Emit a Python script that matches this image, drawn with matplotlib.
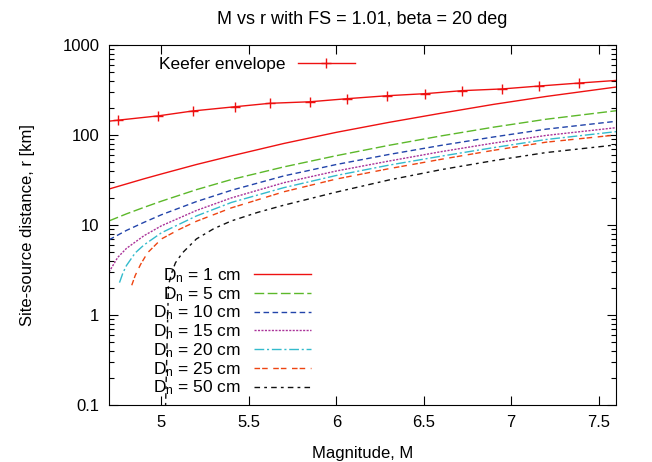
import matplotlib
matplotlib.use("Agg")
import matplotlib.pyplot as plt
from matplotlib.ticker import FixedLocator, FuncFormatter, LogLocator, NullFormatter

plt.rcParams['font.family'] = ['Liberation Sans', 'DejaVu Sans']
plt.rcParams['font.size'] = 12
plt.rcParams['mathtext.fontset'] = 'custom'
plt.rcParams['mathtext.rm'] = 'Liberation Sans'
plt.rcParams['mathtext.it'] = 'Liberation Sans'

# Keefer envelope, first/last points lie outside the frame
keefer_M = [4.50, 4.75, 4.98, 5.18, 5.42, 5.62, 5.85, 6.06, 6.29, 6.51, 6.72, 6.95, 7.16, 7.39, 7.80]
keefer_r = [129, 146, 163, 185, 206, 225, 234, 253, 273, 288, 311, 325, 350, 378, 430]

# Dn curves, M and r [km]
d1_M = [4.7, 4.8, 4.9, 5.0, 5.2, 5.4, 5.7, 6.0, 6.3, 6.6, 6.9, 7.2, 7.6]
d1_r = [25.1, 28.6, 32.6, 36.9, 47.0, 58.6, 80.5, 107, 138, 174.6, 219, 268, 341]

d5_M = [4.7, 4.8, 4.9, 5.0, 5.2, 5.4, 5.7, 6.0, 6.3, 6.6, 6.9, 7.2, 7.6]
d5_r = [11.1, 13.3, 15.7, 18.4, 24.7, 32.0, 44.2, 58.9, 76.7, 97.7, 122.2, 149.6, 186]

d10_M = [4.7, 4.8, 4.9, 5.0, 5.2, 5.4, 5.7, 6.0, 6.3, 6.6, 6.9, 7.2, 7.6]
d10_r = [6.84, 8.71, 10.7, 13.0, 18.2, 24.3, 35.1, 47.0, 60.7, 76.7, 95.1, 116.1, 141.9]

d15_M = [4.7, 4.75, 4.8, 4.9, 5.0, 5.2, 5.4, 5.7, 6.0, 6.3, 6.6, 6.9, 7.2, 7.6]
d15_r = [3.0, 4.37, 5.5, 7.6, 9.8, 14.5, 20.0, 29.5, 39.8, 51.3, 65.3, 81.3, 98.9, 120.5]

d20_M = [4.76, 4.78, 4.8, 4.85, 4.9, 5.0, 5.2, 5.4, 5.7, 6.0, 6.3, 6.6, 6.9, 7.2, 7.6]
d20_r = [2.29, 2.95, 3.55, 4.9, 6.0, 8.2, 12.6, 17.8, 26.0, 35.5, 46.2, 58.2, 72.4, 89.1, 108.9]

d25_M = [4.83, 4.85, 4.88, 4.92, 5.0, 5.1, 5.2, 5.4, 5.7, 6.0, 6.3, 6.6, 6.9, 7.2, 7.6]
d25_r = [2.14, 2.75, 3.63, 4.9, 7.0, 8.9, 11.0, 15.5, 23.4, 32.4, 42.2, 53.7, 67.6, 83.2, 100]

d50_M = [5.02, 5.04, 5.06, 5.08, 5.12, 5.2, 5.3, 5.4, 5.55, 5.7, 6.0, 6.3, 6.6, 6.9, 7.2, 7.6]
d50_r = [0.05, 2.14, 3.0, 3.8, 4.9, 7.0, 9.12, 11.1, 13.8, 16.6, 23.2, 31.6, 41.2, 51.9, 63.8, 77.6]

x_ticks = [5, 5.5, 6, 6.5, 7, 7.5]
y_ticks = [0.1, 1, 10, 100, 1000]

fig = plt.figure(figsize=(6.52, 4.62), dpi=100)
ax = fig.add_axes([0.1672, 0.1234, 0.7776, 0.7792])

kf, = ax.plot(keefer_M, keefer_r, color='#ee1111', lw=1.0, marker='+', ms=7, mew=1.0,
              markevery=slice(1, -1), label='Keefer envelope')

curves = [
    (d1_M, d1_r, '1', '#ee1111', (None, None)),
    (d5_M, d5_r, '5', '#5cb82a', (7, 2.5)),
    (d10_M, d10_r, '10', '#2244aa', (4, 2.5)),
    (d15_M, d15_r, '15', '#aa3399', (1.5, 1)),
    (d20_M, d20_r, '20', '#33bbcc', (7, 2, 1.5, 2)),
    (d25_M, d25_r, '25', '#ee4411', (4, 1.5, 4, 4)),
    (d50_M, d50_r, '50', '#111111', (4, 3, 2, 3)),
]
handles = []
for m, r, dn, c, dash in curves:
    ln, = ax.plot(m, r, color=c, lw=1.0, label=r'D$_{\rm n}$ = ' + dn + ' cm')
    if dash[0] is not None:
        ln.set_dashes(dash)
    handles.append(ln)

ax.set_yscale('log')
ax.set_xlim(4.7, 7.6)
ax.set_ylim(0.1, 1000)
ax.xaxis.set_major_locator(FixedLocator(x_ticks))
ax.xaxis.set_major_formatter(FuncFormatter(lambda v, p: '{:g}'.format(v)))
ax.yaxis.set_major_locator(FixedLocator(y_ticks))
ax.yaxis.set_major_formatter(FuncFormatter(lambda v, p: '{:g}'.format(v)))
ax.yaxis.set_minor_locator(LogLocator(base=10, subs=range(2, 10)))
ax.yaxis.set_minor_formatter(NullFormatter())
ax.tick_params(which='both', direction='in', top=True, right=True)
ax.tick_params(which='major', length=6.5, width=0.8, pad=7)
ax.tick_params(which='minor', length=3.5, width=0.8)

ax.set_title('M vs r with FS = 1.01, beta = 20 deg', fontsize=13, pad=15)
ax.set_xlabel('Magnitude, M', labelpad=12)
ax.set_ylabel('Site-source distance, r [km]', labelpad=20)

leg1 = ax.legend(handles=[kf], loc='upper right', bbox_to_anchor=(0.485, 0.968),
                 frameon=False, markerfirst=False, handlelength=3.3, handletextpad=0.7,
                 borderpad=0, borderaxespad=0, numpoints=1, fontsize=12.5)
ax.add_artist(leg1)
ax.legend(handles=handles, loc='upper right', bbox_to_anchor=(0.398, 0.385),
          frameon=False, markerfirst=False, handlelength=3.3, handletextpad=0.7,
          borderpad=0, borderaxespad=0, labelspacing=0.0, fontsize=12.5)

fig.savefig('out.png', dpi=100)
